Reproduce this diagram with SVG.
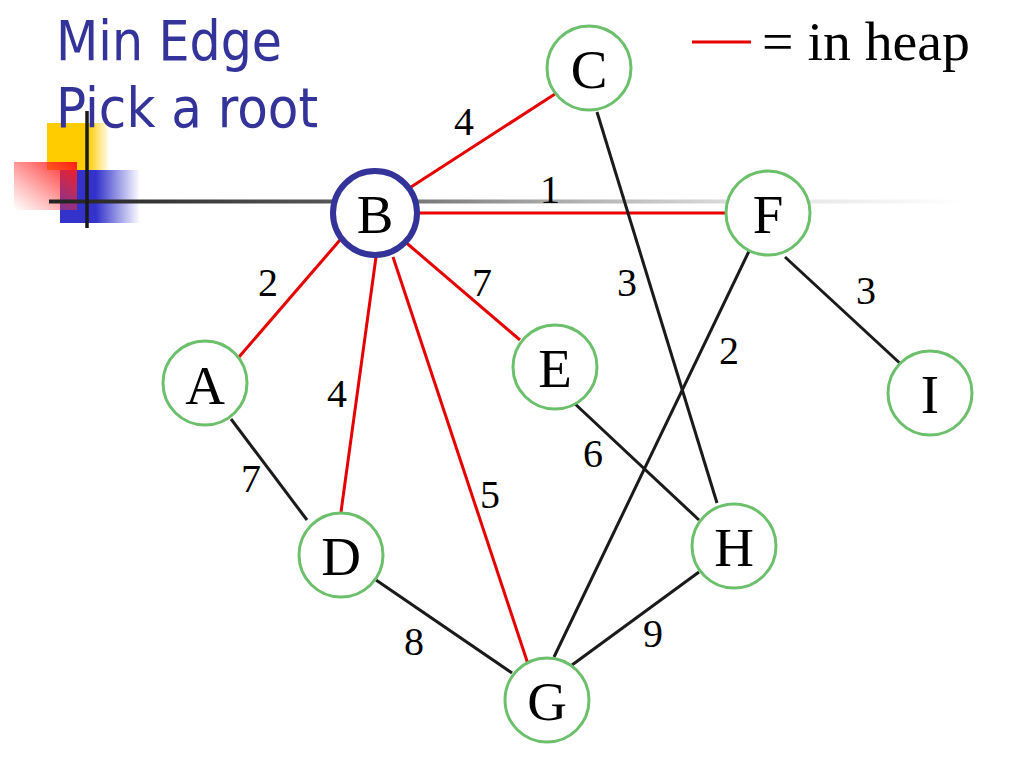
<svg xmlns="http://www.w3.org/2000/svg" width="1024" height="768" viewBox="0 0 1024 768">
<style>
.title{font-family:"DejaVu Sans Condensed","DejaVu Sans","Liberation Sans",sans-serif;font-size:55px;fill:#333399}
.node circle{fill:#fff;stroke:#6cc06c;stroke-width:3}
.node text{font-family:"Liberation Serif","Times New Roman",serif;font-size:55px;fill:#000;text-anchor:middle}
.lbl{font-family:"Liberation Serif","Times New Roman",serif;font-size:40px;fill:#000;text-anchor:middle}
.red{stroke:#e60000;stroke-width:3;fill:none}
.blk{stroke:#1a1a1a;stroke-width:3;fill:none}
</style>
<defs>
<linearGradient id="gY" x1="0" y1="0" x2="1" y2="0">
<stop offset="0" stop-color="#ffcc00"/><stop offset="0.65" stop-color="#ffcc00"/><stop offset="1" stop-color="#ffcc00" stop-opacity="0"/>
</linearGradient>
<linearGradient id="gR" x1="1" y1="0" x2="0" y2="1">
<stop offset="0" stop-color="#ff1a1a"/><stop offset="1" stop-color="#ff4040" stop-opacity="0"/>
</linearGradient>
<linearGradient id="gB" x1="0" y1="0" x2="1" y2="0">
<stop offset="0" stop-color="#3333cc"/><stop offset="0.45" stop-color="#3333cc"/><stop offset="1" stop-color="#3333cc" stop-opacity="0"/>
</linearGradient>
<linearGradient id="gL" gradientUnits="userSpaceOnUse" x1="49" y1="0" x2="965" y2="0">
<stop offset="0" stop-color="#222"/><stop offset="0.3" stop-color="#555"/><stop offset="0.55" stop-color="#aaa"/><stop offset="0.75" stop-color="#ddd"/><stop offset="1" stop-color="#fff"/>
</linearGradient>
</defs>
<rect width="1024" height="768" fill="#fff"/>
<g id="decoration">
<rect x="47" y="123" width="63" height="47" fill="url(#gY)"/>
<rect x="60" y="170" width="80" height="53" fill="url(#gB)"/>
<rect x="14" y="162" width="63" height="48" fill="url(#gR)"/>
<line x1="49" y1="201.5" x2="965" y2="201.5" stroke="url(#gL)" stroke-width="4"/>
<line x1="87" y1="111" x2="87" y2="228" stroke="#1a1a1a" stroke-width="3.5"/>
</g>
<g id="title">
<text class="title" x="56" y="60" textLength="226" lengthAdjust="spacingAndGlyphs">Min Edge</text>
<text class="title" x="56" y="127" textLength="262" lengthAdjust="spacingAndGlyphs">Pick a root</text>
</g>
<g id="legend">
<line class="red" x1="692" y1="42" x2="751" y2="42"/>
<text x="762" y="60" font-family="Liberation Serif, Times New Roman, serif" font-size="54" textLength="208" lengthAdjust="spacingAndGlyphs">= in heap</text>
</g>
<g id="connectors">
<line class="red" x1="411" y1="187" x2="555" y2="94"/>
<line class="red" x1="418" y1="213" x2="725" y2="213"/>
<line class="red" x1="340" y1="240" x2="239" y2="357"/>
<line class="red" x1="376" y1="257" x2="341" y2="512"/>
<line class="red" x1="393" y1="257" x2="528" y2="664"/>
<line class="red" x1="403" y1="240" x2="520" y2="340"/>
<line class="blk" x1="597" y1="112" x2="717" y2="503"/>
<line class="blk" x1="751" y1="247" x2="554" y2="657"/>
<line class="blk" x1="785" y1="257" x2="904" y2="367"/>
<line class="blk" x1="573" y1="402" x2="699" y2="520"/>
<line class="blk" x1="699" y1="572" x2="572" y2="665"/>
<line class="blk" x1="376" y1="580" x2="512" y2="673"/>
<line class="blk" x1="231" y1="419" x2="307" y2="520"/>
</g>
<g id="labels" font-family="Liberation Serif, Times New Roman, serif" font-size="40" text-anchor="middle" fill="#000">
<text x="464" y="135">4</text>
<text x="550" y="203">1</text>
<text x="268" y="296">2</text>
<text x="482" y="296">7</text>
<text x="337" y="407">4</text>
<text x="251" y="492">7</text>
<text x="490" y="508">5</text>
<text x="627" y="296">3</text>
<text x="729" y="364">2</text>
<text x="866" y="304">3</text>
<text x="593" y="467">6</text>
<text x="414" y="655">8</text>
<text x="653" y="647">9</text>
</g>
<g id="node-B" class="node"><circle cx="375" cy="213" r="42" style="stroke:#333399;stroke-width:6"/><text x="375" y="233">B</text></g>
<g id="node-C" class="node"><circle cx="589" cy="68" r="42"/><text x="589" y="88">C</text></g>
<g id="node-F" class="node"><circle cx="768" cy="213" r="42"/><text x="768" y="233">F</text></g>
<g id="node-A" class="node"><circle cx="205" cy="383" r="42"/><text x="205" y="404">A</text></g>
<g id="node-E" class="node"><circle cx="555" cy="367" r="42"/><text x="555" y="387">E</text></g>
<g id="node-I" class="node"><circle cx="930" cy="393" r="42"/><text x="930" y="413">I</text></g>
<g id="node-D" class="node"><circle cx="341" cy="555" r="42"/><text x="341" y="575">D</text></g>
<g id="node-H" class="node"><circle cx="734" cy="546" r="42"/><text x="734" y="566">H</text></g>
<g id="node-G" class="node"><circle cx="547" cy="700" r="42"/><text x="547" y="720">G</text></g>
</svg>
